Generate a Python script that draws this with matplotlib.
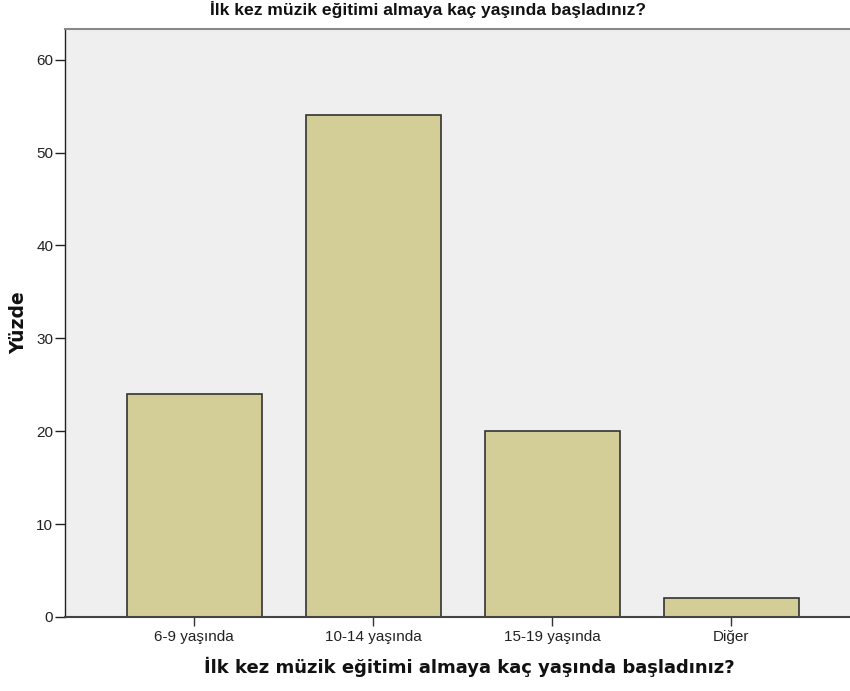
import matplotlib
matplotlib.use("Agg")
import matplotlib.pyplot as plt

categories = ["6-9 yaşında", "10-14 yaşında", "15-19 yaşında", "Diğer"]
values = [24, 54, 20, 2]
yticks = [0, 10, 20, 30, 40, 50, 60]
title = "İlk kez müzik eğitimi almaya kaç yaşında başladınız?"
xlabel = "İlk kez müzik eğitimi almaya kaç yaşında başladınız?"
ylabel = "Yüzde"

W, H = 850, 691
fig = plt.figure(figsize=(W/100, H/100), dpi=100)
fig.patch.set_facecolor("white")
left, right, top, bottom = 65, 860.5, 29, 617
ax = fig.add_axes([left/W, (H-bottom)/H, (right-left)/W, (bottom-top)/H])
ax.set_facecolor("#EFEFEF")

x = list(range(len(categories)))
ax.bar(x, values, width=0.754, color="#D3CE97", edgecolor="#333333", linewidth=1.2, zorder=2)
ax.set_xlim(-0.723, 3.723)
ax.set_ylim(0, 63.3)
ax.set_yticks(yticks)
ax.set_yticklabels([str(t) for t in yticks])
ax.set_xticks(x)
ax.set_xticklabels(categories)

for lab in ax.get_xticklabels() + ax.get_yticklabels():
    lab.set_fontfamily("Liberation Sans")
    lab.set_fontsize(11)
    lab.set_color("#222222")
ax.tick_params(axis="y", direction="out", length=7, width=1, color="#222222", pad=1.5)
ax.tick_params(axis="x", direction="out", length=6.5, width=1, color="#333333", pad=3)

ax.spines["left"].set_color("#222222")
ax.spines["left"].set_linewidth(1)
ax.spines["bottom"].set_color("#444444")
ax.spines["bottom"].set_linewidth(1.5)
ax.spines["top"].set_color("#888888")
ax.spines["top"].set_linewidth(1.5)
ax.spines["right"].set_visible(False)

fig.text(428/W, 1 - 10/H, title, ha="center", va="center",
         fontfamily="Liberation Sans", fontweight="bold", fontsize=12.6, color="#111111")
fig.text(469/W, 1 - 667/H, xlabel, ha="center", va="center",
         fontfamily="DejaVu Sans", fontweight="bold", fontsize=13, color="#111111")
fig.text(18.5/W, 1 - 323/H, ylabel, ha="center", va="center", rotation=90,
         fontfamily="DejaVu Sans", fontweight="bold", fontsize=13.5, color="#111111")

fig.savefig("out.png", dpi=100)
